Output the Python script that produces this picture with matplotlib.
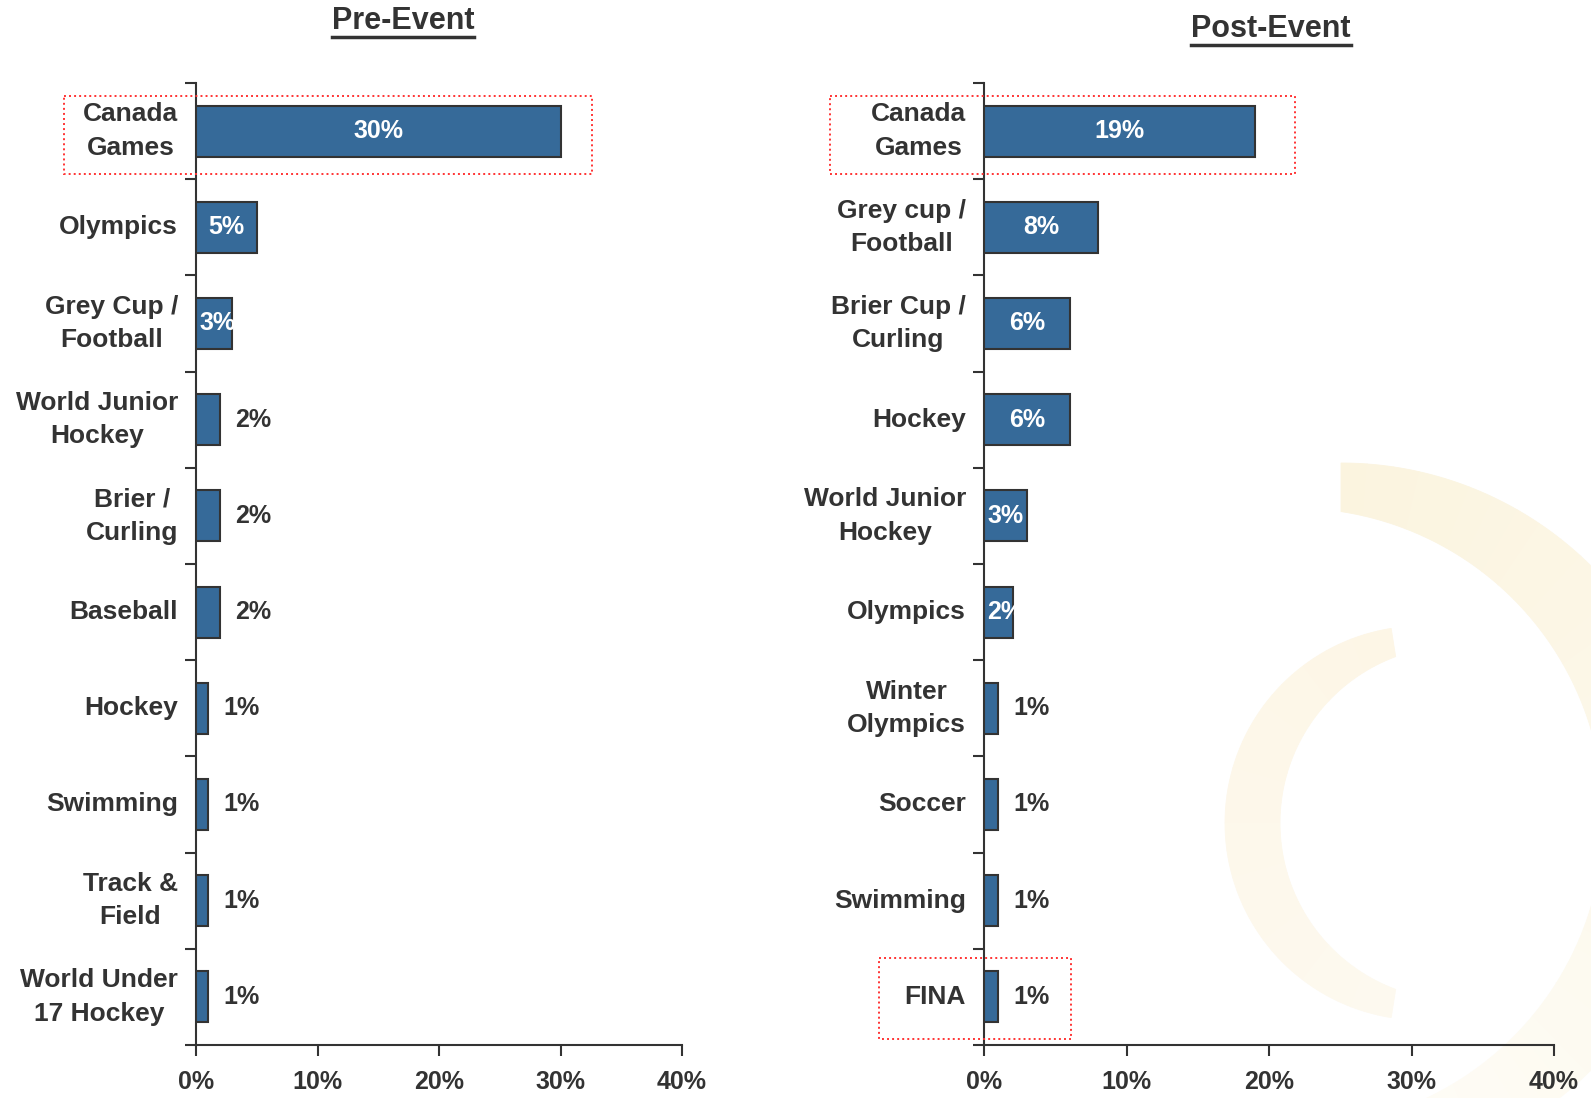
#!/usr/bin/env python3
"""
Pre-Event / Post-Event 兩欄橫條圖
"""

import numpy as np
import matplotlib
matplotlib.use("Agg")
import matplotlib.pyplot as plt
from matplotlib.patches import Rectangle, Polygon
from matplotlib.lines import Line2D
from matplotlib.colors import to_rgb

# 數據
pre_labels = ["Canada\nGames", "Olympics", "Grey Cup /\nFootball", "World Junior\nHockey",
              "Brier /\nCurling", "Baseball", "Hockey", "Swimming", "Track &\nField",
              "World Under\n17 Hockey"]
pre_values = [30, 5, 3, 2, 2, 2, 1, 1, 1, 1]

post_labels = ["Canada\nGames", "Grey cup /\nFootball", "Brier Cup /\nCurling", "Hockey",
               "World Junior\nHockey", "Olympics", "Winter\nOlympics", "Soccer", "Swimming",
               "FINA"]
post_values = [19, 8, 6, 6, 3, 2, 1, 1, 1, 1]

x_ticks = [0, 10, 20, 30, 40]

# 樣式
W, H = 1591, 1098
BAR_COLOR = "#366a99"
DARK = "#333333"
RED = "#ff3333"
FONT = "Liberation Sans"

plt.rcParams['font.family'] = [FONT, 'DejaVu Sans']
plt.rcParams['font.weight'] = 'bold'


def crescent(c_out, r_out, c_in, r_in, t0, t1, n=60):
    """外圓與內圓之間的月牙形，端點沿外圓半徑切開（像素座標，y 向下）"""
    th = np.radians(np.linspace(t0, t1, n))
    ux, uy = np.cos(th), -np.sin(th)
    dx, dy = c_in[0] - c_out[0], c_in[1] - c_out[1]
    ud = ux * dx + uy * dy
    s = ud + np.sqrt(ud ** 2 - (dx ** 2 + dy ** 2) + r_in ** 2)
    outer = np.column_stack([c_out[0] + r_out * ux, c_out[1] + r_out * uy])
    inner = np.column_stack([c_out[0] + s * ux, c_out[1] + s * uy])[::-1]
    pts = np.vstack([outer, inner])
    pts[:, 0] /= W
    pts[:, 1] = 1 - pts[:, 1] / H
    return pts


def add_arc(fig, c_out, r_out, c_in, r_in, t0, t1, col0, col1, steps=40):
    """分段畫弧形，顏色由 col0 漸變到 col1"""
    c0, c1 = np.array(to_rgb(col0)), np.array(to_rgb(col1))
    edges = np.linspace(t0, t1, steps + 1)
    for k in range(steps):
        f = k / (steps - 1)
        col = c0 + (c1 - c0) * f
        fig.add_artist(Polygon(crescent(c_out, r_out, c_in, r_in, edges[k], edges[k + 1], 8),
                               closed=True, facecolor=col, edgecolor=col, linewidth=0.6,
                               transform=fig.transFigure, zorder=-1))


def draw_panel(ax, labels, values, inside_min, boxes):
    y = np.arange(len(labels))
    ax.barh(y, values, height=0.53, color=BAR_COLOR, edgecolor=DARK, linewidth=1.5, zorder=3)

    for yi, v in zip(y, values):
        if v >= inside_min:
            if v > 3:
                ax.text(v / 2, yi, f"{v}%", ha="center", va="center", color="white",
                        fontsize=18, fontweight="bold", zorder=4)
            else:
                ax.annotate(f"{v}%", (0, yi), xytext=(2.5, 0), textcoords="offset points",
                            ha="left", va="center", color="white", fontsize=18,
                            fontweight="bold", zorder=4)
        else:
            ax.annotate(f"{v}%", (v, yi), xytext=(11, 0), textcoords="offset points",
                        ha="left", va="center", color=DARK, fontsize=18, fontweight="bold")

    ax.set_xlim(0, 40)
    ax.set_ylim(len(labels) - 0.5, -0.5)
    ax.set_facecolor("none")

    ax.set_yticks(y)
    ax.set_yticklabels(labels, multialignment="center", fontsize=19, color=DARK,
                       fontweight="bold", linespacing=1.5)
    for lbl in ax.get_yticklabels():
        lbl.set_verticalalignment("center")
    ax.tick_params(axis="y", which="major", length=0, pad=13)
    ax.set_yticks(np.arange(len(labels) + 1) - 0.5, minor=True)
    ax.tick_params(axis="y", which="minor", length=8, width=1.5, color=DARK, direction="out")

    ax.set_xticks(x_ticks)
    ax.set_xticklabels([f"{t}%" for t in x_ticks], fontsize=18, color=DARK, fontweight="bold")
    ax.tick_params(axis="x", length=8, width=1.5, color=DARK, direction="out", pad=10)

    for side in ["top", "right"]:
        ax.spines[side].set_visible(False)
    for side in ["left", "bottom"]:
        ax.spines[side].set_color(DARK)
        ax.spines[side].set_linewidth(1.5)

    # 紅色虛線框
    for x0, x1, y0, y1 in boxes:
        ax.add_patch(Rectangle((x0, y0), x1 - x0, y1 - y0, fill=False, edgecolor=RED,
                               linewidth=1.4, linestyle=(0, (1, 1.6)), clip_on=False, zorder=5))


def main():
    fig = plt.figure(figsize=(W / 100, H / 100), dpi=100)

    # 背景裝飾弧形
    add_arc(fig, (1341, 818), 355, (1294, 818), 310, 90, -80, "#fbf4df", "#fefcf6")
    add_arc(fig, (1422, 823), 197, (1457.5, 823), 177.5, 99, 261, "#fdf6e6", "#fdf9ef")

    ax1 = fig.add_axes([196 / W, 53 / H, 486 / W, 962 / H])
    ax2 = fig.add_axes([984 / W, 53 / H, 570 / W, 962 / H])

    draw_panel(ax1, pre_labels, pre_values, 3, [(-10.9, 32.6, -0.37, 0.45)])
    draw_panel(ax2, post_labels, post_values, 2,
               [(-10.8, 21.85, -0.37, 0.45), (-7.4, 6.12, 8.6, 9.44)])

    # 標題（加底線）
    t1 = fig.text(403 / W, 1 - 21 / H, "Pre-Event", ha="center", va="center",
                  fontsize=22, fontweight="bold", color=DARK)
    t2 = fig.text(1271 / W, 1 - 29 / H, "Post-Event", ha="center", va="center",
                  fontsize=22, fontweight="bold", color=DARK)
    fig.canvas.draw()
    for t in (t1, t2):
        bb = t.get_window_extent()
        yl = (bb.y0 - 1) / H
        fig.add_artist(Line2D([bb.x0 / W, bb.x1 / W], [yl, yl], color=DARK, linewidth=2.5,
                              transform=fig.transFigure))

    fig.savefig("out.png", dpi=100)
    plt.close(fig)


if __name__ == "__main__":
    main()
